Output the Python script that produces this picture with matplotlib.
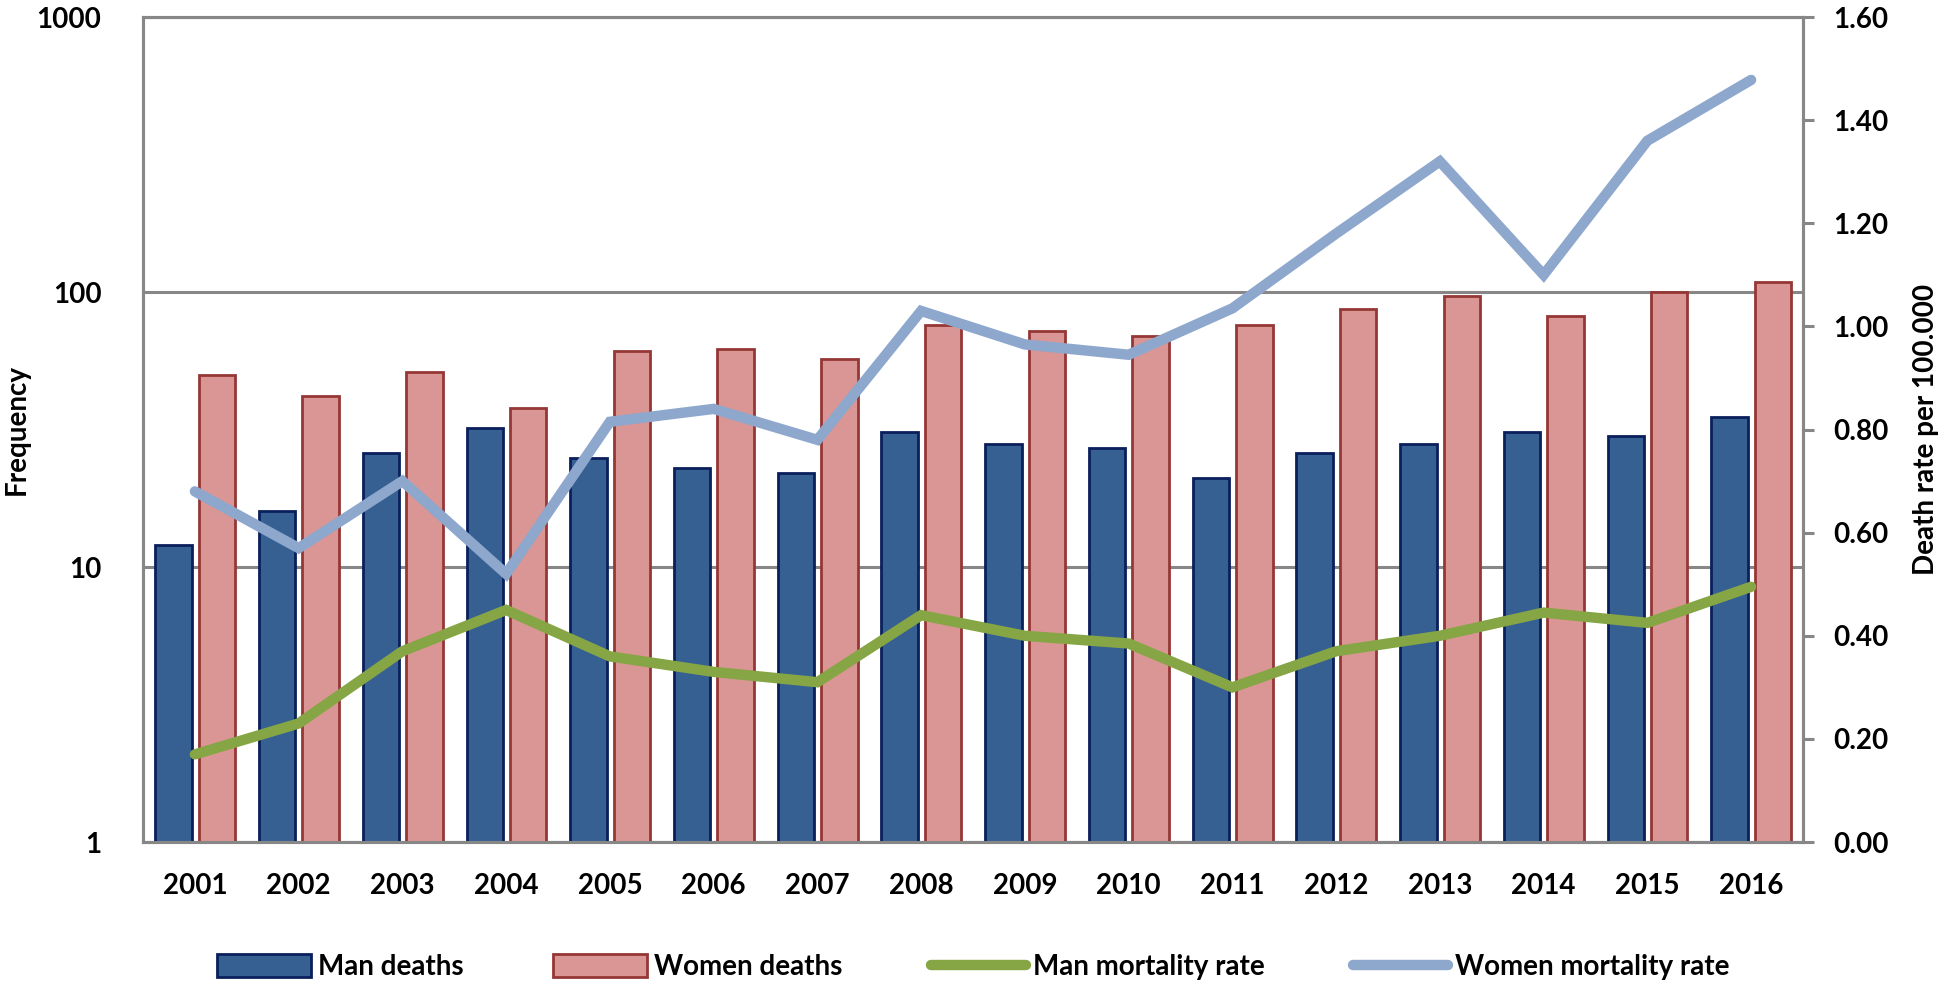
import matplotlib
matplotlib.use("Agg")
import matplotlib.pyplot as plt
from matplotlib.ticker import FixedLocator, FuncFormatter, NullLocator
import numpy as np

plt.rcParams['font.family'] = ['Lato', 'DejaVu Sans']
plt.rcParams['font.weight'] = 'bold'

years = ['2001', '2002', '2003', '2004', '2005', '2006', '2007', '2008',
         '2009', '2010', '2011', '2012', '2013', '2014', '2015', '2016']
man_deaths = [12, 16, 26, 32, 25, 23, 22, 31, 28, 27, 21, 26, 28, 31, 30, 35]
women_deaths = [50, 42, 51, 38, 61, 62, 57, 76, 72, 69, 76, 87, 97, 82, 100, 109]
man_rate = [0.17, 0.23, 0.37, 0.45, 0.36, 0.33, 0.31, 0.44,
            0.40, 0.385, 0.30, 0.37, 0.40, 0.445, 0.425, 0.495]
women_rate = [0.68, 0.57, 0.70, 0.52, 0.815, 0.84, 0.78, 1.03,
              0.965, 0.945, 1.035, 1.18, 1.32, 1.10, 1.36, 1.478]

grey = '#878787'
fs = 20

fig = plt.figure(figsize=(19.46, 9.83), dpi=100)
ax = fig.add_axes([0.0735, 0.1434, 0.853, 0.8393])
x = np.arange(len(years))
w = 0.35

b1 = ax.bar(x - 0.207, man_deaths, w, color='#376092', edgecolor='#0a1f5c',
            linewidth=2, label='Man deaths', zorder=3)
b2 = ax.bar(x + 0.212, women_deaths, w, color='#DA9694', edgecolor='#953735',
            linewidth=2, label='Women deaths', zorder=3)
ax.set_yscale('log')
ax.set_ylim(1, 1000)
ax.set_xlim(-0.5, len(years) - 0.5)
ax.yaxis.set_major_locator(FixedLocator([1, 10, 100, 1000]))
ax.yaxis.set_minor_locator(NullLocator())
ax.yaxis.set_major_formatter(FuncFormatter(lambda v, p: '%d' % v))
ax.grid(axis='y', color=grey, linewidth=2.2, zorder=0)
ax.set_xticks(x)
ax.set_xticklabels(years)
ax.tick_params(axis='x', length=0, pad=22, labelsize=fs)
ax.tick_params(axis='y', length=0, pad=30, labelsize=fs)
ax.set_ylabel('Frequency', fontsize=fs, fontweight='bold')
ax.yaxis.set_label_coords(-0.068, 0.5)

for s in ax.spines.values():
    s.set_color(grey)
    s.set_linewidth(2.2)

ax2 = ax.twinx()
l1, = ax2.plot(x, man_rate, color='#86A545', linewidth=7.5,
               solid_capstyle='round', solid_joinstyle='miter', label='Man mortality rate', zorder=4)
l2, = ax2.plot(x, women_rate, color='#8DA7CD', linewidth=7.5,
               solid_capstyle='round', solid_joinstyle='miter', label='Women mortality rate', zorder=4)
ax2.set_ylim(0, 1.6)
ax2.set_yticks(np.arange(0, 1.61, 0.2))
ax2.yaxis.set_major_formatter(FuncFormatter(lambda v, p: '%.2f' % v))
ax2.tick_params(axis='y', length=8, width=2.2, color=grey, pad=14, labelsize=fs)
ax2.set_ylabel('Death rate per 100.000', fontsize=fs, fontweight='bold')
ax2.yaxis.set_label_coords(1.066, 0.5)
for s in ax2.spines.values():
    s.set_color(grey)
    s.set_linewidth(2.2)

fig.legend(handles=[b1, b2, l1, l2], loc='center', bbox_to_anchor=(0.5, 0.016),
           ncol=4, frameon=False, fontsize=fs, handlelength=3.4, handleheight=0.9,
           handletextpad=0.25, columnspacing=3.2)

fig.savefig('out.png', dpi=100)
